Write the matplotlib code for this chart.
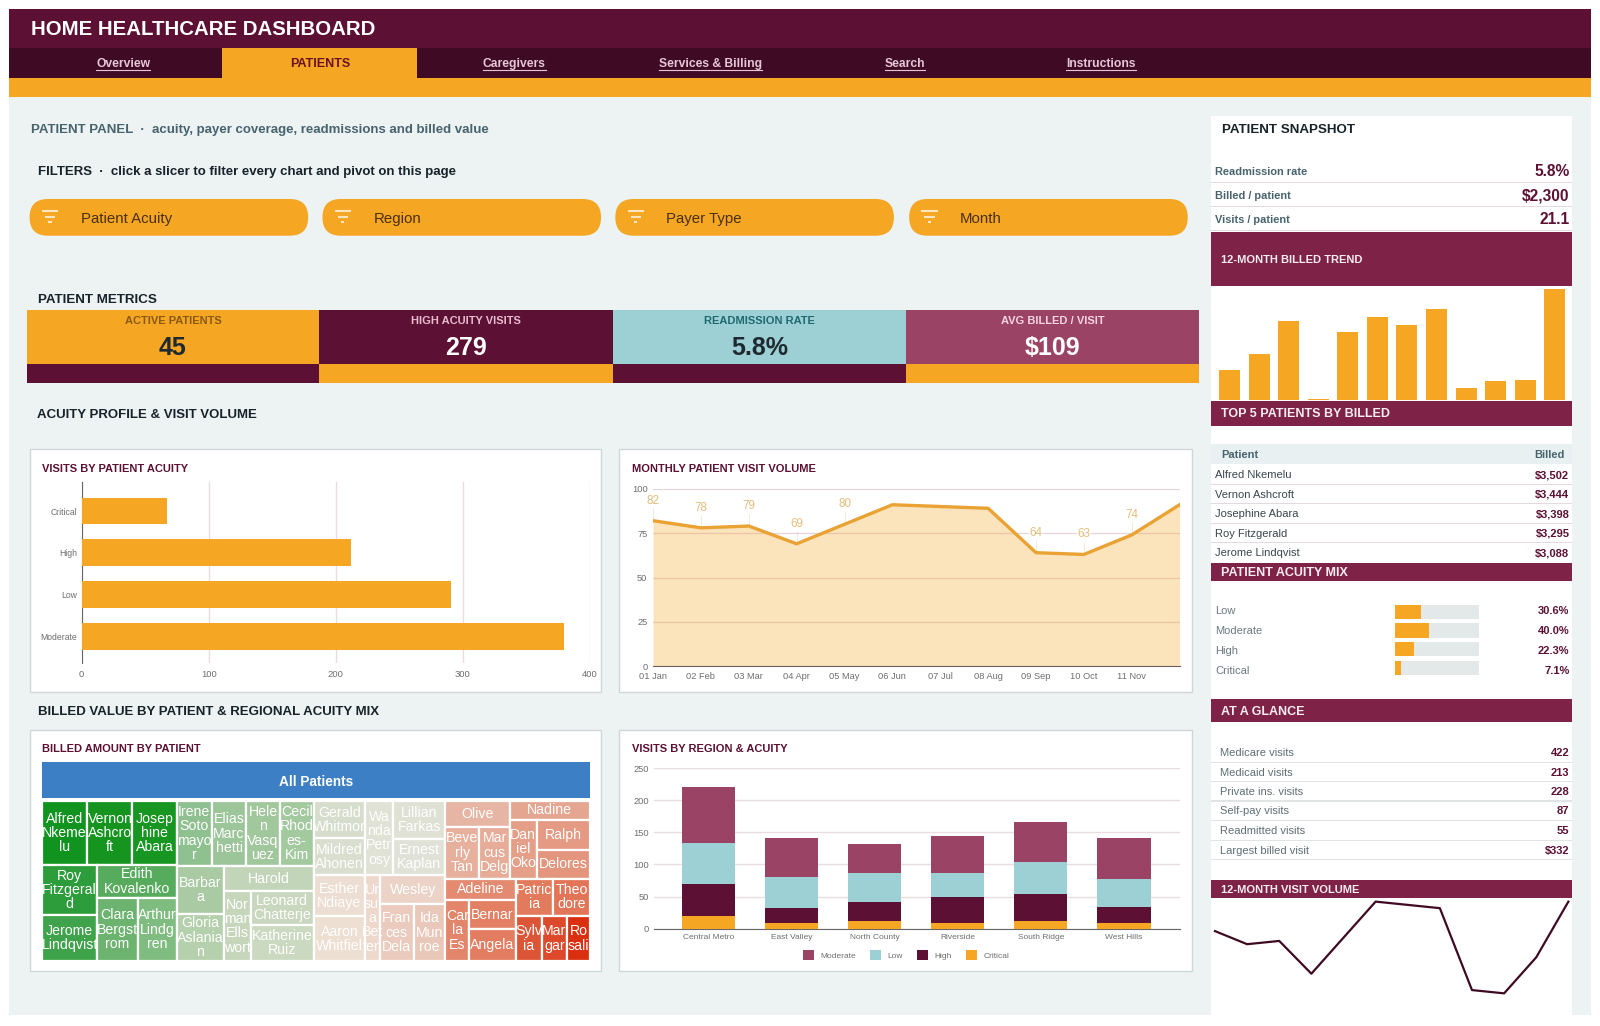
import matplotlib
matplotlib.use('Agg')
import matplotlib.pyplot as plt
from matplotlib.patches import Rectangle, FancyBboxPatch

plt.rcParams['font.family'] = ['Liberation Sans', 'DejaVu Sans']

# data
acuity_cats = ['Critical', 'High', 'Low', 'Moderate']
acuity_visits = [67, 212, 291, 380]

month_labels = ['01 Jan', '02 Feb', '03 Mar', '04 Apr', '05 May', '06 Jun', '07 Jul', '08 Aug', '09 Sep', '10 Oct', '11 Nov', '']
month_visits = [82, 78, 79, 69, 80, 91, 90, 89, 64, 63, 74, 91]
labelled_months = [0, 1, 2, 3, 4, 8, 9, 10]

regions = ['Central Metro', 'East Valley', 'North County', 'Riverside', 'South Ridge', 'West Hills']
region_critical = [20, 9, 12, 8, 12, 8]
region_high = [49, 23, 29, 42, 42, 25]
region_low = [64, 49, 45, 37, 50, 44]
region_moderate = [88, 61, 46, 57, 63, 64]

month_billed = [4870, 7550, 12910, 164, 11050, 13510, 12250, 14830, 1860, 3120, 3170, 18160]

top_patients = ['Alfred Nkemelu', 'Vernon Ashcroft', 'Josephine Abara', 'Roy Fitzgerald', 'Jerome Lindqvist']
top_billed = ['$3,502', '$3,444', '$3,398', '$3,295', '$3,088']

mix_cats = ['Low', 'Moderate', 'High', 'Critical']
mix_pct = [30.6, 40.0, 22.3, 7.1]

glance_names = ['Medicare visits', 'Medicaid visits', 'Private ins. visits', 'Self-pay visits', 'Readmitted visits', 'Largest billed visit']
glance_vals = ['422', '213', '228', '87', '55', '$332']

snapshot_names = ['Readmission rate', 'Billed / patient', 'Visits / patient']
snapshot_vals = ['5.8%', '$2,300', '21.1']

tabs = ['Overview', 'PATIENTS', 'Caregivers', 'Services & Billing', 'Search', 'Instructions']
filters = ['Patient Acuity', 'Region', 'Payer Type', 'Month']
kpi_titles = ['ACTIVE PATIENTS', 'HIGH ACUITY VISITS', 'READMISSION RATE', 'AVG BILLED / VISIT']
kpi_vals = ['45', '279', '5.8%', '$109']

# billed amount per patient, with the label wrapping seen in the treemap cells
billed = {
    'Alfred\nNkeme\nlu': 3502, 'Vernon\nAshcro\nft': 3444, 'Josep\nhine\nAbara': 3398,
    'Roy\nFitzgeral\nd': 3295, 'Jerome\nLindqvist': 3088, 'Edith\nKovalenko': 3100,
    'Clara\nBergst\nrom': 3040, 'Arthur\nLindg\nren': 2960,
    'Irene\nSoto\nmayo\nr': 2740, 'Elias\nMarc\nhetti': 2700, 'Hele\nn\nVasq\nuez': 2600, 'Cecil\nRhod\nes-\nKim': 2640,
    'Barbar\na': 2690, 'Gloria\nAslania\nn': 2650, 'Harold': 2695, 'Nor\nman\nElls\nwort': 2312,
    'Leonard\nChatterje': 2516, 'Katherine\nRuiz': 2707,
    'Gerald\nWhitmor': 2300, 'Mildred\nAhonen': 2262, 'Wa\nnda\nPetr\nosy': 2510, 'Lillian\nFarkas': 2350, 'Ernest\nKaplan': 2304,
    'Esther\nNdiaye': 2530, 'Aaron\nWhitfiel': 2772, 'Ur\nsul\na\nBet\nten': 1522, 'Wesley': 2240, 'Fran\nces\nDela': 2310, 'Ida\nMun\nroe': 2170,
    'Olive': 1969, 'Beve\nrly\nTan': 2104, 'Mar\ncus\nDelg': 1912, 'Nadine': 1804, 'Dan\niel\nOko': 1869, 'Ralph': 1934, 'Delores': 1803,
    'Adeline': 1790, 'Car\nla\nEs': 1732, 'Bernar': 1673, 'Angela': 1791, 'Patric\nia': 1640, 'Theo\ndore': 1640,
    'Sylv\nia': 1392, 'Mar\ngar': 1392, 'Ro\nsali': 1226,
}

# colours of the cells in the same order as billed
cell_colors = [
    '#11941f', '#15951f', '#179621', '#2c9d3a', '#3ea34a', '#57ab5c', '#6bb36e', '#7fbc80',
    '#8fc08f', '#9cc59a', '#a1c79c', '#a3c99f', '#a9caa3', '#b5d0ac', '#c3d5b9', '#c6d6bb', '#c9d7be', '#cbd9c1',
    '#d7ddcd', '#d9decf', '#e0e2d6', '#e0e1d5', '#e1e2d7',
    '#ecded2', '#eedfd3', '#eed8cc', '#ecd3c8', '#eacbbd', '#e9c8ba',
    '#e6b5a3', '#e7b09c', '#e6ac98', '#e5a691', '#e59f88', '#e49a83', '#e4957d',
    '#e38a70', '#e3856a', '#e37f63', '#e37d62', '#e27a5c', '#e27558',
    '#dd5537', '#dc4a2b', '#da3010',
]

# how the cells nest: 'h' splits side by side, 'v' stacks, numbers index into billed
treemap_tree = ('h', [
    ('v', [('h', [0, 1, 2]),
           ('h', [('v', [3, 4]), ('v', [5, ('h', [6, 7])])])]),
    ('v', [('h', [8, 9, 10, 11]),
           ('h', [('v', [12, 13]), ('v', [14, ('h', [15, ('v', [16, 17])])])])]),
    ('v', [('h', [('v', [18, 19]), 20, ('v', [21, 22])]),
           ('h', [('v', [23, 24]), 25, ('v', [26, ('h', [27, 28])])])]),
    ('v', [('h', [('v', [29, ('h', [30, 31])]), ('v', [32, ('h', [33, ('v', [34, 35])])])]),
           ('h', [('v', [36, ('h', [37, ('v', [38, 39])])]), ('v', [('h', [40, 41]), ('h', [42, 43, 44])])])]),
])

ORANGE = '#F5A623'
WINE = '#5C1033'
DARK = '#3F0B24'
BAND = '#7E2347'
TEAL = '#9DD0D4'
ROSE = '#9B4365'
PAGE = '#EDF2F3'
GRID = '#E8DCE1'
TICK = '#6E6E6E'
W, H = 1568.0, 1005.5

fig = plt.figure(figsize=(16, 10.26), dpi=100, facecolor='white')
bg = fig.add_axes([0, 0, 1, 1])
bg.set_xlim(0, W)
bg.set_ylim(H, 0)
bg.axis('off')


def box(x0, y0, x1, y1, color, ec='none', lw=0, z=1):
    bg.add_patch(Rectangle((x0, y0), x1 - x0, y1 - y0, fc=color, ec=ec, lw=lw, zorder=z))


def txt(x, y, s, size, color='#1F2A30', weight='normal', ha='left', z=5):
    # va center sits a little high against the reference
    return bg.text(x, y + 2.2, s, fontsize=size, color=color, fontweight=weight, ha=ha, va='center', zorder=z)


def place(x0, y0, x1, y1):
    ax = fig.add_axes([x0 / W, 1 - y1 / H, (x1 - x0) / W, (y1 - y0) / H])
    ax.patch.set_alpha(0)
    return ax


# page frame and header
box(9, 9, 1559, 995, PAGE)
box(9, 9, 1559, 47, WINE)
box(9, 47, 1559, 76, DARK)
box(9, 76, 1559, 95, ORANGE)
box(218, 47, 409, 77, ORANGE, z=2)
txt(30, 27, 'HOME HEALTHCARE DASHBOARD', 14.7, 'white', 'bold')

tab_x = [121, 314, 504, 696, 887, 1079]
renderer = fig.canvas.get_renderer()
for name, x in zip(tabs, tab_x):
    if name == 'PATIENTS':
        txt(x, 61, name, 9, '#6B1220', 'bold', 'center')
    else:
        t = txt(x, 61, name, 8.7, '#E6C7D5', 'bold', 'center')
        half = t.get_window_extent(renderer).width / 2 * W / 1600
        bg.plot([x - half, x + half], [68.5, 68.5], color='#E6C7D5', lw=0.8, zorder=5)

txt(30, 125, 'PATIENT PANEL  ·  acuity, payer coverage, readmissions and billed value', 9.5, '#47646E', 'bold')
txt(37, 166, 'FILTERS  ·  click a slicer to filter every chart and pivot on this page', 9.5, '#16232A', 'bold')

# slicers
for name, x in zip(filters, [29, 316, 603, 891]):
    bg.add_patch(FancyBboxPatch((x, 195), 273, 36, boxstyle='round,pad=0,rounding_size=18', fc=ORANGE, ec='none', zorder=2))
    for dy, half in [(207, 8), (212.5, 5), (218, 1.5)]:
        bg.plot([x + 20 - half, x + 20 + half], [dy, dy], color='#FBE6C0', lw=1.5, zorder=3, solid_capstyle='butt')
    txt(x + 50, 212, name, 10.8, '#4A3010')

# metric tiles
txt(37, 291.5, 'PATIENT METRICS', 9.6, '#16232A', 'bold')
kpi_edges = [26, 313, 600.5, 888, 1175]
kpi_fill = [ORANGE, WINE, TEAL, ROSE]
kpi_strip = [WINE, ORANGE, WINE, ORANGE]
kpi_title_col = ['#8A5A14', '#E8BCCF', '#1F6A70', '#F3D5E0']
kpi_val_col = ['#1F2A30', 'white', '#1F2A30', 'white']
for i in range(4):
    x0, x1 = kpi_edges[i], kpi_edges[i + 1]
    box(x0, 304, x1, 357, kpi_fill[i])
    box(x0, 357, x1, 375, kpi_strip[i])
    txt((x0 + x1) / 2, 312, kpi_titles[i], 8, kpi_title_col[i], 'bold', 'center')
    txt((x0 + x1) / 2, 339, kpi_vals[i], 18, kpi_val_col[i], 'bold', 'center')

txt(36, 404.5, 'ACUITY PROFILE & VISIT VOLUME', 9.55, '#16232A', 'bold')
txt(37, 695.5, 'BILLED VALUE BY PATIENT & REGIONAL ACUITY MIX', 9.55, '#16232A', 'bold')

# white cards
for x0, y0, x1, y1, title in [(29, 440, 589, 678, 'VISITS BY PATIENT ACUITY'),
                              (607, 440, 1168, 678, 'MONTHLY PATIENT VISIT VOLUME'),
                              (29, 715, 589, 952, 'BILLED AMOUNT BY PATIENT'),
                              (607, 715, 1168, 952, 'VISITS BY REGION & ACUITY')]:
    box(x0, y0, x1, y1, 'white', '#CFD6D8', 1)
    txt(x0 + 12, y0 + 17, title, 8, WINE, 'bold')

# horizontal bars
ax = place(80, 472, 578, 650)
ax.barh(acuity_cats, acuity_visits, height=0.64, color=ORANGE, zorder=3)
ax.set_xlim(0, 400)
ax.set_ylim(3.645, -0.704)
ax.set_xticks([0, 100, 200, 300, 400])
ax.grid(axis='x', color=GRID, lw=1, zorder=0)
ax.tick_params(length=0, labelsize=6.8, labelcolor=TICK, pad=5)
ax.tick_params(axis='y', labelsize=6.2, pad=3)
for s in ['top', 'right', 'bottom']:
    ax.spines[s].set_visible(False)
ax.spines['left'].set_color('#666666')

# monthly visits area
ax = place(640, 479, 1156, 653)
xs = list(range(12))
ax.fill_between(xs, month_visits, color=ORANGE, alpha=0.3, lw=0, zorder=2)
ax.plot(xs, month_visits, color='#E9A233', lw=2.4, zorder=4)
for i in labelled_months:
    ax.vlines(i, month_visits[i], month_visits[i] + 7, color='#EFE6D8', lw=0.6, zorder=1)
    ax.annotate(str(month_visits[i]), (i, month_visits[i]), xytext=(0, 14.5), textcoords='offset points',
                ha='center', va='center', fontsize=8.4, color='#E3BE7C', zorder=5,
                bbox=dict(fc='white', ec='none', pad=0.6, alpha=0.7))
ax.set_xlim(0, 11)
ax.set_ylim(0, 100)
ax.set_xticks(xs)
ax.set_xticklabels(month_labels)
ax.set_yticks([0, 25, 50, 75, 100])
ax.grid(axis='y', color='#E8D3DC', lw=0.9, zorder=1)
ax.tick_params(length=0, labelsize=6.7, labelcolor=TICK, pad=4)
for s in ['top', 'right', 'left']:
    ax.spines[s].set_visible(False)
ax.spines['bottom'].set_color('#6B6358')

# treemap
box(41, 747, 578, 782, '#3D7FC4')
txt(309.5, 764.5, 'All Patients', 9.8, 'white', 'bold', 'center')
ax = place(41, 785, 578, 942)
ax.set_xlim(0, 1)
ax.set_ylim(1, 0)
ax.axis('off')
labels = list(billed)
amounts = list(billed.values())


def node_sum(node):
    if isinstance(node, int):
        return amounts[node]
    return sum(node_sum(c) for c in node[1])


def draw_node(node, x, y, w, h):
    if isinstance(node, int):
        rect = Rectangle((x, y), w, h, fc=cell_colors[node], ec='white', lw=1.6, zorder=2)
        ax.add_patch(rect)
        t = ax.text(x + w / 2, y + h / 2, labels[node], color='white', fontsize=10.2, ha='center', va='center',
                    linespacing=1.02, zorder=3)
        t.set_clip_path(rect)
        return
    total = node_sum(node)
    for child in node[1]:
        frac = node_sum(child) / total
        if node[0] == 'h':
            draw_node(child, x, y, w * frac, h)
            x += w * frac
        else:
            draw_node(child, x, y, w, h * frac)
            y += h * frac


draw_node(treemap_tree, 0, 0, 1, 1)

# stacked bars
ax = place(640.5, 753, 1156, 910)
pos = list(range(len(regions)))
base = [0] * 6
stack = [('Critical', region_critical, ORANGE), ('High', region_high, WINE), ('Low', region_low, TEAL), ('Moderate', region_moderate, ROSE)]
handles = {}
for name, vals, col in stack:
    handles[name] = ax.bar(pos, vals, bottom=base, width=0.64, color=col, zorder=3)
    base = [b + v for b, v in zip(base, vals)]
ax.set_xlim(-0.663, 5.67)
ax.set_ylim(0, 250)
ax.set_xticks(pos)
ax.set_xticklabels(regions)
ax.set_yticks([0, 50, 100, 150, 200, 250])
ax.grid(axis='y', color=GRID, lw=1, zorder=0)
ax.tick_params(length=0, labelsize=6.7, labelcolor=TICK)
ax.tick_params(axis='x', labelsize=6, pad=4)
for s in ['top', 'right', 'left']:
    ax.spines[s].set_visible(False)
ax.spines['bottom'].set_color('#666666')
order = ['Moderate', 'Low', 'High', 'Critical']
ax.legend([handles[n] for n in order], order, ncol=4, frameon=False, fontsize=6, labelcolor=TICK,
          loc='center', bbox_to_anchor=(0.48, -0.165), handlelength=1.3, handleheight=1.35,
          columnspacing=1.75, handletextpad=0.75)

# sidebar
box(1187, 114, 1541, 995, 'white')
txt(1198, 125, 'PATIENT SNAPSHOT', 9.6, '#16232A', 'bold')
for i, y in enumerate([166, 189.5, 213]):
    txt(1191, y, snapshot_names[i], 7.9, '#47646E', 'bold')
    txt(1538, y, snapshot_vals[i], 11.2, WINE, 'bold', 'right')
    box(1187, y + 12, 1541, y + 13, '#E3D9DE')

for y0, y1, title in [(227, 280, '12-MONTH BILLED TREND'), (393, 417, 'TOP 5 PATIENTS BY BILLED'),
                      (551.5, 569.5, 'PATIENT ACUITY MIX'), (685, 708, 'AT A GLANCE'),
                      (862, 880.5, '12-MONTH VISIT VOLUME')]:
    box(1187, y0, 1541, y1, BAND, z=2)
    size = 8 if y0 in (227, 862) else 9
    txt(1197, (y0 + y1) / 2 - 1, title, size, '#F8EDF1', 'bold')

ax = place(1190.5, 283.2, 1541, 391.7)
ax.bar(range(12), month_billed, width=0.71, color=ORANGE)
ax.set_xlim(-0.5, 11.6)
ax.set_ylim(0, max(month_billed))
ax.axis('off')

box(1187, 435, 1541, 455, '#E9F0F2')
txt(1197, 444, 'Patient', 8, '#47646E', 'bold')
txt(1533, 444, 'Billed', 8, '#47646E', 'bold', 'right')
for i, y in enumerate([463.5, 482.5, 502, 521, 540]):
    txt(1191, y, top_patients[i], 8, '#39474D')
    txt(1538, y, top_billed[i], 8, WINE, 'bold', 'right')
    if i < 4:
        box(1187, y + 10.5, 1541, y + 11.5, '#E3D9DE')

# acuity share bars
ax = place(1367.5, 590.6, 1449.7, 663.4)
ax.barh(range(4), [100] * 4, height=0.76, color='#E3E8E9')
ax.barh(range(4), mix_pct, height=0.76, color=ORANGE)
ax.set_xlim(0, 100)
ax.set_ylim(3.5, -0.5)
ax.axis('off')
for i, y in enumerate([597, 616.5, 635.5, 655]):
    txt(1191, y, mix_cats[i], 8, '#6B7A80')
    txt(1538, y, f'{mix_pct[i]:.1f}%', 8, WINE, 'bold', 'right')

for i, y in enumerate([736, 755, 774, 793, 812.5, 831.5]):
    txt(1196, y, glance_names[i], 8, '#5F6F75')
    txt(1538, y, glance_vals[i], 8, WINE, 'bold', 'right')
    box(1187, y + 10.5, 1541, y + 11.5, '#E0E4E5')

# sidebar sparkline uses the same monthly visits
ax = place(1190.7, 883.6, 1537, 973.5)
ax.plot(xs, month_visits, color=DARK, lw=1.6, clip_on=False)
ax.set_xlim(0, 11)
ax.set_ylim(63, 91)
ax.axis('off')

fig.savefig('out.png', dpi=100, facecolor='white')
